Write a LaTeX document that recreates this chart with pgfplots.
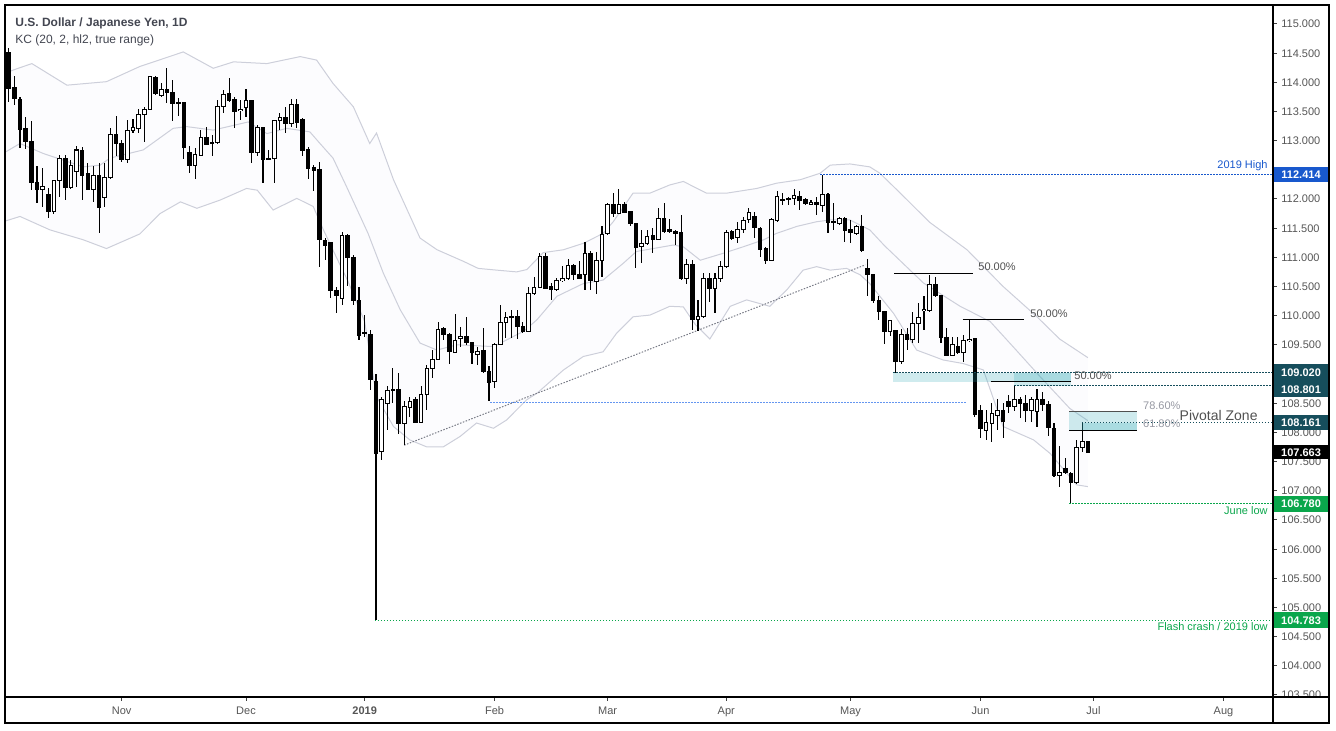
\documentclass[border=0pt]{standalone}
\usepackage{pgfplots}
\pgfplotsset{compat=1.18}
\usepackage{pgfplotstable}
\usepgfplotslibrary{fillbetween}
\usepackage{fontspec}
\setmainfont{Liberation Sans}
\definecolor{tvblue}{RGB}{24,88,205}
\definecolor{tvteal}{RGB}{22,78,92}
\definecolor{tvgreen}{RGB}{10,166,75}
\definecolor{tvlblue}{RGB}{100,150,240}
\definecolor{tvgrey}{RGB}{120,123,134}
\definecolor{kcline}{RGB}{205,207,218}
\definecolor{kcfill}{RGB}{252,252,254}
\definecolor{zone}{RGB}{38,166,178}
\definecolor{titlecol}{RGB}{67,70,81}
\definecolor{ticklab}{RGB}{85,85,85}
\definecolor{anncol}{RGB}{80,80,80}
\definecolor{fibgrey}{RGB}{150,152,162}
\newcommand\fsa{\fontsize{5.5pt}{6pt}\selectfont}
\newcommand\fsb{\fontsize{6pt}{7pt}\selectfont}
\newcommand\fsc{\fontsize{7pt}{8pt}\selectfont}

\pgfplotstableread{
i o h l c
0 114.51 114.58 113.67 113.90
1 113.91 114.11 113.61 113.72
2 113.71 113.75 112.87 113.19
3 113.20 113.41 112.85 112.99
4 112.99 113.33 112.15 112.28
5 112.29 112.57 111.93 112.17
6 112.17 112.53 111.87 112.22
7 112.07 112.18 111.67 111.78
8 111.78 112.33 111.75 112.31
9 112.31 112.75 112.04 112.70
10 112.70 112.75 111.98 112.20
11 112.20 112.67 112.18 112.57
12 112.47 112.91 112.21 112.84
13 112.84 112.90 111.98 112.41
14 112.44 112.61 112.15 112.17
15 112.17 112.57 111.95 112.41
16 112.41 112.61 111.41 111.86
17 112.03 112.61 111.87 112.37
18 112.37 113.21 112.35 113.11
19 113.11 113.42 112.73 112.95
20 112.95 113.01 112.64 112.67
21 112.67 113.35 112.61 113.18
22 113.18 113.37 113.13 113.22
23 113.21 113.55 113.13 113.44
24 113.44 113.58 112.98 113.53
25 113.53 114.11 113.53 114.10
26 114.09 114.10 113.78 113.81
27 113.78 113.98 113.75 113.87
28 113.87 114.24 113.64 113.82
29 113.83 114.04 113.33 113.64
30 113.66 113.73 113.42 113.64
31 113.66 113.67 112.68 112.89
32 112.80 112.91 112.45 112.57
33 112.57 112.87 112.34 112.77
34 112.75 113.18 112.73 113.06
35 113.06 113.24 112.92 112.94
36 112.97 113.10 112.73 112.95
37 112.97 113.70 112.95 113.59
38 113.59 113.87 113.47 113.79
39 113.81 114.07 113.67 113.69
40 113.71 113.75 113.22 113.50
41 113.51 113.70 113.35 113.54
42 113.57 113.88 113.41 113.68
43 113.69 113.70 112.61 112.79
44 112.79 113.27 112.73 113.22
45 113.22 113.24 112.27 112.68
46 112.70 112.84 112.67 112.68
47 112.70 113.35 112.28 113.34
48 113.35 113.47 113.18 113.39
49 113.40 113.57 113.13 113.29
50 113.29 113.72 113.24 113.62
51 113.62 113.72 113.21 113.31
52 113.37 113.38 112.73 112.84
53 112.84 112.90 112.35 112.53
54 112.54 112.58 112.13 112.49
55 112.50 112.64 110.84 111.30
56 111.29 111.33 110.95 111.21
57 111.26 111.27 110.30 110.44
58 110.43 110.50 110.04 110.34
59 110.30 111.43 110.18 111.38
60 111.38 111.40 110.50 111.00
61 111.00 111.04 110.18 110.26
62 110.26 110.50 109.58 109.66
63 109.72 110.01 109.64 109.70
64 109.68 109.75 108.73 108.90
65 108.88 109.00 104.78 107.64
66 107.67 108.61 107.53 108.57
67 108.50 108.80 108.04 108.72
68 108.74 109.10 108.50 108.72
69 108.74 109.01 107.98 108.16
70 108.16 108.54 107.78 108.45
71 108.43 108.61 108.27 108.53
72 108.56 108.61 108.16 108.17
73 108.17 108.80 108.16 108.65
74 108.65 109.16 108.38 109.10
75 109.10 109.42 108.93 109.25
76 109.25 109.90 109.24 109.77
77 109.78 109.80 109.58 109.67
78 109.67 109.70 109.18 109.38
79 109.37 110.03 109.36 109.58
80 109.61 109.81 109.47 109.65
81 109.64 109.98 109.50 109.54
82 109.54 109.55 109.18 109.36
83 109.34 109.47 109.16 109.39
84 109.41 109.78 109.01 109.04
85 109.05 109.13 108.53 108.85
86 108.87 109.53 108.76 109.51
87 109.51 110.18 109.49 109.88
88 109.88 110.07 109.61 109.97
89 109.98 110.09 109.61 109.97
90 109.99 110.10 109.60 109.82
91 109.82 109.90 109.70 109.73
92 109.73 110.49 109.72 110.38
93 110.38 110.67 110.35 110.49
94 110.49 111.07 110.47 111.01
95 111.01 111.08 110.45 110.47
96 110.50 110.56 110.27 110.45
97 110.45 110.64 110.43 110.61
98 110.61 110.85 110.58 110.63
99 110.63 110.98 110.61 110.86
100 110.86 110.89 110.61 110.70
101 110.70 110.94 110.63 110.64
102 110.70 111.26 110.44 111.07
103 111.07 111.10 110.44 110.61
104 110.58 111.10 110.38 110.95
105 110.95 111.53 110.67 111.40
106 111.40 111.94 111.39 111.91
107 111.90 112.10 111.70 111.75
108 111.75 112.17 111.74 111.90
109 111.91 111.94 111.76 111.77
110 111.78 111.80 111.53 111.58
111 111.58 111.59 110.81 111.16
112 111.19 111.47 110.91 111.24
113 111.24 111.47 111.21 111.36
114 111.37 111.50 111.07 111.30
115 111.30 111.84 111.29 111.67
116 111.67 111.93 111.42 111.44
117 111.47 111.65 111.41 111.44
118 111.44 111.47 111.21 111.41
119 111.42 111.73 110.62 110.64
120 110.64 110.98 110.55 110.87
121 110.87 110.95 109.76 109.93
122 109.93 110.27 109.73 109.98
123 109.98 110.73 109.96 110.64
124 110.64 110.73 110.24 110.47
125 110.47 110.73 110.04 110.64
126 110.64 110.93 110.58 110.84
127 110.84 111.47 110.81 111.42
128 111.44 111.47 111.30 111.33
129 111.34 111.61 111.24 111.48
130 111.47 111.70 111.41 111.64
131 111.64 111.84 111.58 111.77
132 111.70 111.78 111.33 111.51
133 111.50 111.52 111.01 111.14
134 111.15 111.18 110.88 110.94
135 110.94 111.67 110.93 111.64
136 111.63 112.13 111.61 112.04
137 111.99 112.11 111.90 111.98
138 112.00 112.04 111.90 111.99
139 112.00 112.18 111.90 112.06
140 112.04 112.13 111.81 111.98
141 111.99 112.01 111.90 111.93
142 111.91 111.98 111.90 111.94
143 111.94 112.04 111.73 111.90
144 111.89 112.41 111.78 112.08
145 112.08 112.10 111.41 111.60
146 111.62 111.93 111.47 111.60
147 111.58 111.70 111.55 111.67
148 111.67 111.70 111.27 111.46
149 111.47 111.64 111.24 111.42
150 111.41 111.55 111.38 111.53
151 111.53 111.73 111.09 111.11
152 110.81 110.98 110.33 110.71
153 110.71 110.72 110.21 110.26
154 110.26 110.33 109.93 110.07
155 110.07 110.08 109.52 109.73
156 109.73 109.93 109.65 109.91
157 109.74 109.76 109.02 109.21
158 109.21 109.78 109.18 109.67
159 109.67 109.78 109.41 109.60
160 109.60 110.07 109.53 109.87
161 109.87 110.21 109.53 109.97
162 110.09 110.33 109.76 110.11
163 110.09 110.70 110.07 110.53
164 110.53 110.67 110.32 110.34
165 110.34 110.36 109.53 109.63
166 109.63 109.78 109.30 109.32
167 109.32 109.63 109.30 109.50
168 109.48 109.63 109.35 109.37
169 109.37 109.67 109.21 109.57
170 109.57 109.93 109.55 109.60
171 109.60 109.62 108.27 108.30
172 108.38 108.47 107.90 108.06
173 108.04 108.38 107.87 108.17
174 108.16 108.50 107.84 108.32
175 108.29 108.58 108.04 108.38
176 108.38 108.50 107.90 108.18
177 108.53 108.64 108.34 108.44
178 108.44 108.80 108.37 108.57
179 108.57 108.60 108.24 108.50
180 108.50 108.64 108.18 108.37
181 108.37 108.61 108.18 108.57
182 108.36 108.74 108.10 108.57
183 108.57 108.70 108.36 108.48
184 108.48 108.53 107.93 108.09
185 108.07 108.16 107.24 107.27
186 107.27 107.76 107.07 107.32
187 107.38 107.56 107.29 107.31
188 107.30 107.33 106.78 107.14
189 107.14 107.87 107.12 107.74
190 107.74 108.16 107.67 107.84
191 107.84 107.86 107.64 107.663
}\candles

\pgfplotstableread{
i v
-0.65 114.15
0.8 114.21
4.1 114.32
10.3 113.95
17.3 114.01
23.2 114.27
30.9 114.52
36.2 114.24
39.8 114.35
45.7 114.32
51.6 114.44
54.5 114.38
57.4 113.98
61.0 113.58
63.9 112.95
65.1 113.13
68.1 112.33
72.8 111.33
75.8 111.13
80.5 110.93
83.1 110.81
86.4 110.78
89.9 110.75
91.7 110.79
94.6 111.08
98.2 111.13
101.7 111.24
105.2 111.41
107.0 111.61
110.5 112.10
113.5 112.10
117.0 112.24
119.4 112.30
123.5 112.10
127.1 112.10
132.4 112.18
135.9 112.27
140.1 112.33
143.6 112.44
145.4 112.58
148.9 112.60
152.4 112.55
154.2 112.44
157.8 112.10
163.0 111.60
169.6 111.13
176.0 110.50
182.0 109.98
186.0 109.60
191.0 109.28
}\kcup

\pgfplotstableread{
i v
-0.65 112.80
2.0 112.95
6.1 112.78
13.2 112.55
16.2 112.58
17.9 112.70
23.8 112.84
29.1 113.21
31.5 113.24
36.2 113.18
42.4 113.32
45.7 113.12
49.2 113.21
53.3 113.15
55.1 112.95
57.4 112.70
59.8 112.21
63.6 111.41
66.3 110.73
69.3 110.10
72.8 109.53
75.8 109.41
79.3 109.50
85.8 109.47
91.1 109.73
93.5 109.93
97.0 110.33
101.7 110.55
105.2 110.61
108.8 110.90
111.1 111.10
117.6 111.21
119.4 111.18
122.4 110.95
126.5 111.07
130.0 111.18
133.6 111.30
135.9 111.41
139.5 111.53
143.0 111.61
145.4 111.64
148.9 111.64
152.4 111.47
155.0 111.20
161.9 110.56
168.4 110.16
173.7 109.90
178.4 109.40
182.5 108.96
187.8 108.41
191.0 108.20
}\kcmid

\pgfplotstableread{
i v
-0.65 111.62
2.0 111.70
7.3 111.47
13.2 111.30
17.3 111.15
23.2 111.40
26.8 111.75
30.4 111.95
33.3 111.84
37.4 111.98
42.1 112.18
44.0 112.15
46.8 111.81
51.0 112.01
53.9 111.87
55.7 111.47
58.0 111.00
60.0 110.60
63.0 109.90
65.1 108.61
68.1 108.10
71.0 107.87
74.0 107.75
76.9 107.75
79.9 107.93
82.8 108.16
85.8 108.07
88.1 108.21
91.7 108.56
93.5 108.67
98.2 109.07
101.7 109.30
105.2 109.38
107.6 109.70
110.5 109.98
113.5 110.01
117.0 110.16
119.4 110.15
121.5 109.85
124.1 109.60
127.7 110.16
130.6 110.27
134.7 110.16
137.7 110.44
140.6 110.78
143.0 110.84
145.4 110.78
148.3 110.81
150.7 110.70
152.4 110.55
154.2 110.33
156.6 110.04
160.7 109.41
165.4 109.24
168.9 109.18
172.5 109.07
176.0 108.10
181.4 107.87
184.3 107.64
189.0 107.10
191.0 107.07
}\kclo

\begin{document}
\begin{tikzpicture}
\begin{axis}[hide axis, clip=false, scale only axis,
  width=634pt, height=346pt,
  xmin=-0.655, xmax=223.77, ymin=103.465, ymax=115.325]
\path (axis cs:-1.540,102.883) rectangle (axis cs:234.92,115.410);

% Keltner channel
\addplot[draw=none, name path=U, forget plot] table[x=i,y=v]{\kcup};
\addplot[draw=none, name path=L, forget plot] table[x=i,y=v]{\kclo};
\addplot[fill=kcfill, draw=none, forget plot] fill between[of=U and L];
\addplot[kcline, line width=0.5pt, forget plot] table[x=i,y=v]{\kcup};
\addplot[kcline, line width=0.5pt, forget plot] table[x=i,y=v]{\kcmid};
\addplot[kcline, line width=0.5pt, forget plot] table[x=i,y=v]{\kclo};

% trend line and level
\draw[tvgrey, line width=0.5pt, dash pattern=on 0.75pt off 0.75pt] (axis cs:70.0,107.78) -- (axis cs:151.6,110.87);
\draw[tvlblue, line width=0.5pt, dash pattern=on 0.75pt off 0.75pt] (axis cs:85.2,108.52) -- (axis cs:169.6,108.52);

% wicks
\addplot[draw=none, mark=none, forget plot,
  error bars/.cd, y dir=both, y explicit, error mark=none,
  error bar style={line width=0.55pt, draw=black, solid}]
  table[x=i, y expr={(\thisrow{h}+\thisrow{l})/2}, y error expr={(\thisrow{h}-\thisrow{l})/2}]{\candles};
% bodies
\addplot[draw=none, mark=none, forget plot,
  error bars/.cd, y dir=both, y explicit, error mark=none,
  error bar style={line width=2.3pt, draw=black, solid}]
  table[x=i, y expr={(\thisrow{o}+\thisrow{c})/2}, y error expr={abs(\thisrow{c}-\thisrow{o})/2+0.0086}]{\candles};
\addplot[draw=none, mark=none, forget plot,
  error bars/.cd, y dir=both, y explicit, error mark=none,
  error bar style={line width=1.3pt, draw=white, solid}]
  table[x=i, y expr={(\thisrow{o}+\thisrow{c})/2}, y error expr={(\thisrow{c}>\thisrow{o}) ? max(abs(\thisrow{c}-\thisrow{o})/2-0.0086,0) : 0}]{\candles};

% zones
\fill[zone, fill opacity=0.22] (axis cs:156.57,108.869) rectangle (axis cs:187.96,109.023);
\fill[zone, fill opacity=0.22] (axis cs:177.93,108.80) rectangle (axis cs:187.96,109.023);
\fill[zone, fill opacity=0.22] (axis cs:187.7,108.036) rectangle (axis cs:199.65,108.362);
\fill[zone, fill opacity=0.22] (axis cs:189.96,108.036) rectangle (axis cs:199.65,108.161);

% fib lines
\draw[black, line width=0.5pt] (axis cs:156.74,110.727) -- (axis cs:170.72,110.727);
\draw[black, line width=0.5pt] (axis cs:168.85,109.926) -- (axis cs:179.70,109.926);
\draw[black, line width=0.5pt] (axis cs:173.80,108.869) -- (axis cs:187.96,108.869);
\draw[anncol, line width=0.5pt] (axis cs:187.7,108.362) -- (axis cs:199.65,108.362);
\draw[black, line width=0.5pt] (axis cs:187.7,108.036) -- (axis cs:199.65,108.036);

% level lines
\draw[tvblue, line width=0.5pt, dash pattern=on 0.75pt off 0.75pt] (axis cs:143.6,112.414) -- (axis cs:223.77,112.414);
\draw[tvteal, line width=0.5pt, dash pattern=on 0.75pt off 0.75pt] (axis cs:156.57,109.02) -- (axis cs:223.77,109.02);
\draw[tvteal, line width=0.5pt, dash pattern=on 0.75pt off 0.75pt] (axis cs:177.93,108.801) -- (axis cs:223.77,108.801);
\draw[tvteal, line width=0.5pt, dash pattern=on 0.75pt off 0.75pt] (axis cs:189.96,108.161) -- (axis cs:223.77,108.161);
\draw[tvgreen, line width=0.5pt, dash pattern=on 0.75pt off 0.75pt] (axis cs:187.7,106.78) -- (axis cs:223.77,106.78);
\draw[tvgreen, line width=0.5pt, dash pattern=on 0.75pt off 0.75pt] (axis cs:64.8,104.783) -- (axis cs:223.77,104.783);

% annotation texts
\node[anchor=base west, inner sep=0pt, font=\fsa, text=anncol] at (axis cs:171.56,110.766) {50.00\%};
\node[anchor=base west, inner sep=0pt, font=\fsa, text=anncol] at (axis cs:180.76,109.961) {50.00\%};
\node[anchor=base west, inner sep=0pt, font=\fsa, text=anncol] at (axis cs:188.55,108.903) {50.00\%};
\node[anchor=base west, inner sep=0pt, font=\fsa, text=fibgrey] at (axis cs:200.71,108.40) {78.60\%};
\node[anchor=base west, inner sep=0pt, font=\fsa, text=fibgrey] at (axis cs:200.71,108.075) {61.80\%};
\node[anchor=base west, inner sep=0pt, font=\fsc, text=anncol] at (axis cs:207.19,108.195) {Pivotal Zone};
\node[anchor=base east, inner sep=0pt, font=\fsa, text=tvblue] at (axis cs:222.88,112.514) {2019 High};
\node[anchor=base east, inner sep=0pt, font=\fsa, text=tvgreen] at (axis cs:222.88,106.584) {June low};
\node[anchor=base east, inner sep=0pt, font=\fsa, text=tvgreen] at (axis cs:222.88,104.605) {Flash crash / 2019 low};

% title
\node[anchor=base west, inner sep=0pt, font=\fsb\bfseries, text=titlecol] at (axis cs:1.115,114.956) {U.S. Dollar / Japanese Yen, 1D};
\node[anchor=base west, inner sep=0pt, font=\fsb, text=titlecol] at (axis cs:1.115,114.656) {KC (20, 2, hl2, true range)};

% y ticks and labels
\pgfplotsinvokeforeach{103.500,104.000,104.500,105.000,105.500,106.000,106.500,107.000,107.500,108.000,108.500,109.000,109.500,110.000,110.500,111.000,111.500,112.000,113.000,113.500,114.000,114.500,115.000}{
  \draw[black!75, line width=0.5pt] (axis cs:223.77,#1) -- (axis cs:224.48,#1);
  \node[anchor=base west, inner sep=0pt, font=\fsa, text=ticklab, yshift=-2pt] at (axis cs:225.18,#1) {#1};
}

% x ticks and labels
\pgfplotsinvokeforeach{20,42,63,86,106,127,149,172,192,215}{
  \draw[black!75, line width=0.5pt] (axis cs:#1,103.465) -- (axis cs:#1,103.397);
}
\node[anchor=base, inner sep=0pt, font=\fsa, text=ticklab] at (axis cs:20,103.157) {Nov};
\node[anchor=base, inner sep=0pt, font=\fsa, text=ticklab] at (axis cs:42,103.157) {Dec};
\node[anchor=base, inner sep=0pt, font=\fsa\bfseries, text=ticklab] at (axis cs:63,103.157) {2019};
\node[anchor=base, inner sep=0pt, font=\fsa, text=ticklab] at (axis cs:86,103.157) {Feb};
\node[anchor=base, inner sep=0pt, font=\fsa, text=ticklab] at (axis cs:106,103.157) {Mar};
\node[anchor=base, inner sep=0pt, font=\fsa, text=ticklab] at (axis cs:127,103.157) {Apr};
\node[anchor=base, inner sep=0pt, font=\fsa, text=ticklab] at (axis cs:149,103.157) {May};
\node[anchor=base, inner sep=0pt, font=\fsa, text=ticklab] at (axis cs:172,103.157) {Jun};
\node[anchor=base, inner sep=0pt, font=\fsa, text=ticklab] at (axis cs:192,103.157) {Jul};
\node[anchor=base, inner sep=0pt, font=\fsa, text=ticklab] at (axis cs:215,103.157) {Aug};

% price boxes
\fill[tvblue] (axis cs:223.77,112.288) rectangle (axis cs:233.68,112.545);
\node[anchor=base, inner sep=0pt, font=\fsa\bfseries, text=white, yshift=-2pt] at (axis cs:228.73,112.414) {112.414};
\fill[tvteal] (axis cs:223.77,108.887) rectangle (axis cs:233.68,109.166);
\node[anchor=base, inner sep=0pt, font=\fsa\bfseries, text=white, yshift=-2pt] at (axis cs:228.73,109.02) {109.020};
\fill[tvteal] (axis cs:223.77,108.607) rectangle (axis cs:233.68,108.887);
\node[anchor=base, inner sep=0pt, font=\fsa\bfseries, text=white, yshift=-2pt] at (axis cs:228.73,108.742) {108.801};
\fill[tvteal] (axis cs:223.77,108.036) rectangle (axis cs:233.68,108.305);
\node[anchor=base, inner sep=0pt, font=\fsa\bfseries, text=white, yshift=-2pt] at (axis cs:228.73,108.168) {108.161};
\fill[black] (axis cs:223.77,107.541) rectangle (axis cs:233.68,107.786);
\node[anchor=base, inner sep=0pt, font=\fsa\bfseries, text=white, yshift=-2pt] at (axis cs:228.73,107.663) {107.663};
\fill[tvgreen] (axis cs:223.77,106.641) rectangle (axis cs:233.68,106.915);
\node[anchor=base, inner sep=0pt, font=\fsa\bfseries, text=white, yshift=-2pt] at (axis cs:228.73,106.78) {106.780};
\fill[tvgreen] (axis cs:223.77,104.643) rectangle (axis cs:233.68,104.923);
\node[anchor=base, inner sep=0pt, font=\fsa\bfseries, text=white, yshift=-2pt] at (axis cs:228.73,104.783) {104.783};

% frame
\fill[white] (axis cs:223.85,103.03) rectangle (axis cs:233.6,103.46);
\draw[black, line width=0.8pt] (axis cs:-0.655,103.020) rectangle (axis cs:233.68,115.325);
\draw[black, line width=0.8pt] (axis cs:223.77,103.020) -- (axis cs:223.77,115.325);
\draw[black, line width=0.8pt] (axis cs:-0.655,103.465) -- (axis cs:233.68,103.465);
\end{axis}
\end{tikzpicture}
\end{document}
